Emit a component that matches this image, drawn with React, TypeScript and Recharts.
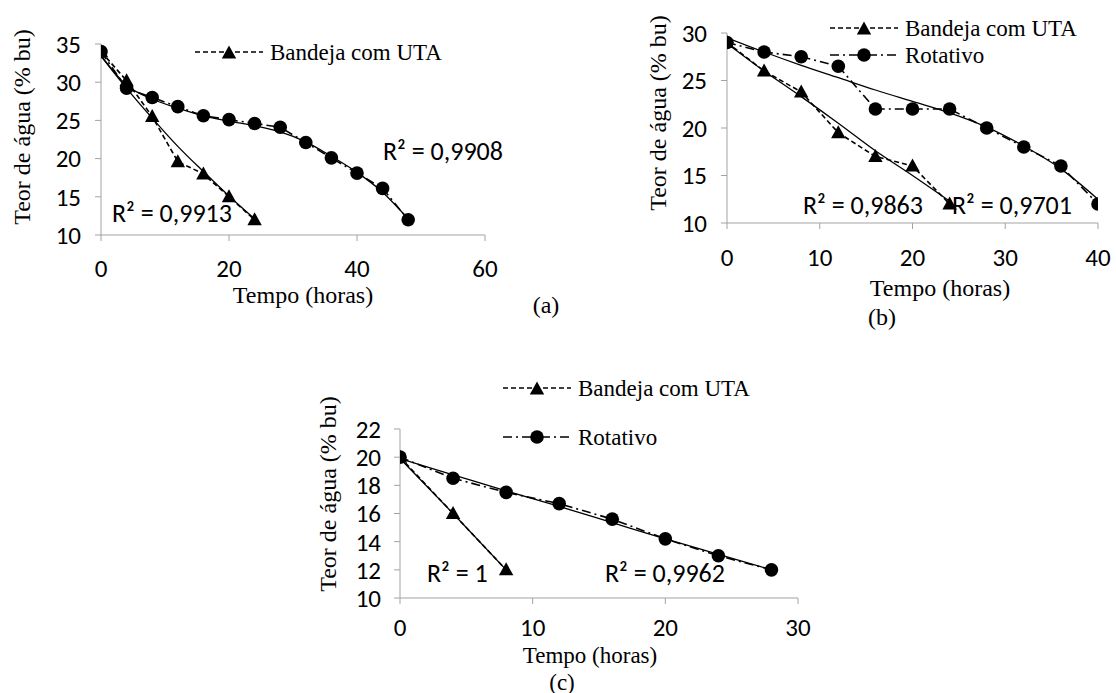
import React from "react";
import { LineChart, Line, XAxis, YAxis, Legend } from "recharts";

// (a) Bandeja com UTA x Rotativo, 35 -> 12 % bu
const horasA_uta = [0, 4, 8, 12, 16, 20, 24];
const teorA_uta = [34, 30.2, 25.5, 19.6, 18, 15, 12];
const tendA_uta = [33.4, 29.2, 25.3, 21.6, 18.3, 15.1, 12.1];
const horasA_rot = [0, 4, 8, 12, 16, 20, 24, 28, 32, 36, 40, 44, 48];
const teorA_rot = [34, 29.2, 28, 26.8, 25.6, 25.1, 24.6, 24.1, 22.1, 20.1, 18.1, 16.1, 12];
const tendA_rot = [33.5, 29.6, 27.8, 26.6, 25.6, 24.9, 24.3, 23.5, 22.2, 20.3, 18.2, 15.6, 12.1];

// (b)
const horasB_uta = [0, 4, 8, 12, 16, 20, 24];
const teorB_uta = [29, 26, 23.8, 19.5, 17, 16, 12];
const tendB_uta = [28.9, 26, 23.3, 20.5, 17.6, 15, 12.3];
const horasB_rot = [0, 4, 8, 12, 16, 20, 24, 28, 32, 36, 40];
const teorB_rot = [29, 28, 27.5, 26.5, 22, 22, 22, 20, 18, 16, 12];
const tendB_rot = [29.5, 28, 26.6, 25.3, 24, 22.8, 21.6, 20.1, 18.1, 15.7, 12.5];

// (c)
const horasC_uta = [0, 4, 8];
const teorC_uta = [20, 16, 12];
const tendC_uta = [19.9, 16, 12];
const horasC_rot = [0, 4, 8, 12, 16, 20, 24, 28];
const teorC_rot = [20, 18.5, 17.5, 16.7, 15.6, 14.2, 13, 12];
const tendC_rot = [19.9, 18.75, 17.6, 16.5, 15.35, 14.2, 13.1, 12];

const ticksXA = [0, 20, 40, 60];
const ticksYA = [10, 15, 20, 25, 30, 35];
const ticksXB = [0, 10, 20, 30, 40];
const ticksYB = [10, 15, 20, 25, 30];
const ticksXC = [0, 10, 20, 30];
const ticksYC = [10, 12, 14, 16, 18, 20, 22];

const UTA = "Bandeja com UTA";
const ROT = "Rotativo";

const pts = (xs: number[], ys: number[]) => xs.map((x, i) => ({ x, y: ys[i] }));

const serif = "'Liberation Serif', 'Times New Roman', Times, serif";
const sans = "Carlito, Calibri, Lato, sans-serif";
const axisGray = "#a3a3a3";
const dashUta = "5 3";
const dashRot = "9 4 2 4";

const triPath = (cx: number, cy: number) =>
  `M${cx},${cy - 7.5} L${cx + 7.2},${cy + 5.5} L${cx - 7.2},${cy + 5.5} Z`;

const TriDot = (props: any) => {
  const { cx, cy, index } = props;
  if (cx == null || cy == null) return <g key={`t-${index}`} />;
  return <path key={`t-${index}`} d={triPath(cx, cy)} fill="#000" />;
};

const RoundDot = (props: any) => {
  const { cx, cy, index } = props;
  if (cx == null || cy == null) return <g key={`c-${index}`} />;
  return <circle key={`c-${index}`} cx={cx} cy={cy} r={6.8} fill="#000" />;
};

const LegendRows = ({ payload, gap, names }: { payload?: any[]; gap: number; names: string[] }) => (
  <div style={{ display: "flex", flexDirection: "column", rowGap: gap }}>
    {(payload || [])
      .filter((entry) => entry.type !== "none" && names.includes(entry.value))
      .map((entry) => {
        const tri = entry.value === UTA;
        return (
          <div key={entry.value} style={{ display: "flex", alignItems: "center", height: 24 }}>
            <svg width={68} height={16}>
              <line x1={0} y1={8} x2={68} y2={8} stroke="#000" strokeWidth={1.5} strokeDasharray={tri ? dashUta : dashRot} />
              {tri ? <path d={triPath(34, 9)} fill="#000" /> : <circle cx={34} cy={8} r={6.8} fill="#000" />}
            </svg>
            <span style={{ marginLeft: 7, fontFamily: serif, fontSize: 23, color: "#000", lineHeight: 1 }}>
              {entry.value}
            </span>
          </div>
        );
      })}
  </div>
);

interface PanelProps {
  box: { left: number; top: number; width: number; height: number };
  margin: { top: number; right: number; bottom: number; left: number };
  xDomain: [number, number];
  yDomain: [number, number];
  xTicks: number[];
  yTicks: number[];
  uta: { x: number; y: number }[];
  utaTrend: { x: number; y: number }[];
  rot: { x: number; y: number }[];
  rotTrend: { x: number; y: number }[];
  legendNames: string[];
  legendPos: { left: number; top: number };
  legendGap: number;
  yTickMargin: number;
  xTickMargin: number;
}

const tickStyle = { fill: "#000", fontSize: 25, fontFamily: sans };

function Panel(p: PanelProps) {
  return (
    <div style={{ position: "absolute", left: p.box.left, top: p.box.top }}>
      <LineChart width={p.box.width} height={p.box.height} margin={p.margin}>
        <XAxis
          type="number"
          dataKey="x"
          domain={p.xDomain}
          ticks={p.xTicks}
          interval={0}
          height={30}
          stroke={axisGray}
          tickSize={6}
          tickMargin={p.xTickMargin}
          tick={tickStyle}
          allowDataOverflow
        />
        <YAxis
          type="number"
          dataKey="y"
          domain={p.yDomain}
          ticks={p.yTicks}
          interval={0}
          width={60}
          stroke={axisGray}
          tickSize={6}
          tickMargin={p.yTickMargin}
          tick={tickStyle}
          allowDataOverflow
        />
        <Legend
          layout="horizontal"
          verticalAlign="middle"
          align="center"
          wrapperStyle={{ left: p.legendPos.left, top: p.legendPos.top, width: 320 }}
          content={(props: any) => <LegendRows payload={props.payload} gap={p.legendGap} names={p.legendNames} />}
        />
        <Line name="Tendência UTA" data={p.utaTrend} dataKey="y" type="monotone" stroke="#000" strokeWidth={1.3} dot={false} legendType="none" isAnimationActive={false} />
        <Line name="Tendência rotativo" data={p.rotTrend} dataKey="y" type="monotone" stroke="#000" strokeWidth={1.3} dot={false} legendType="none" isAnimationActive={false} />
        <Line
          name={UTA}
          data={p.uta}
          dataKey="y"
          type="linear"
          stroke="#000"
          strokeWidth={1.6}
          strokeDasharray={dashUta}
          dot={TriDot}
          isAnimationActive={false}
        />
        <Line
          name={ROT}
          data={p.rot}
          dataKey="y"
          type="linear"
          stroke="#000"
          strokeWidth={1.6}
          strokeDasharray={dashRot}
          dot={RoundDot}
          isAnimationActive={false}
        />
      </LineChart>
    </div>
  );
}

const Txt = ({ x, y, children, rotate, anchor, font, size }: any) => (
  <div
    style={{
      position: "absolute",
      left: x,
      top: y,
      transform: `translate(${anchor === "start" ? "0" : "-50%"}, -50%)${rotate ? " rotate(-90deg)" : ""}`,
      fontFamily: font,
      fontSize: size,
      lineHeight: 1,
      whiteSpace: "nowrap",
      color: "#000",
    }}
  >
    {children}
  </div>
);

export default function App() {
  return (
    <div style={{ position: "absolute", left: 0, top: 0, width: 1116, height: 693, background: "#fff", overflow: "hidden" }}>
      <Panel
        box={{ left: 0, top: 0, width: 520, height: 330 }}
        margin={{ top: 44, right: 35, bottom: 65, left: 41 }}
        xDomain={[0, 60]}
        yDomain={[10, 35]}
        xTicks={ticksXA}
        yTicks={ticksYA}
        uta={pts(horasA_uta, teorA_uta)}
        utaTrend={pts(horasA_uta, tendA_uta)}
        rot={pts(horasA_rot, teorA_rot)}
        rotTrend={pts(horasA_rot, tendA_rot)}
        legendNames={[UTA]}
        legendPos={{ left: 195, top: 40 }}
        legendGap={3}
        yTickMargin={14}
        xTickMargin={18}
      />
      <Panel
        box={{ left: 600, top: 0, width: 516, height: 293 }}
        margin={{ top: 33, right: 18, bottom: 40, left: 67 }}
        xDomain={[0, 40]}
        yDomain={[10, 30]}
        xTicks={ticksXB}
        yTicks={ticksYB}
        uta={pts(horasB_uta, teorB_uta)}
        utaTrend={pts(horasB_uta, tendB_uta)}
        rot={pts(horasB_rot, teorB_rot)}
        rotTrend={pts(horasB_rot, tendB_rot)}
        legendNames={[UTA, ROT]}
        legendPos={{ left: 230, top: 16 }}
        legendGap={3}
        yTickMargin={14}
        xTickMargin={19}
      />
      <Panel
        box={{ left: 300, top: 370, width: 560, height: 293 }}
        margin={{ top: 59, right: 62, bottom: 35, left: 40 }}
        xDomain={[0, 30]}
        yDomain={[10, 22]}
        xTicks={ticksXC}
        yTicks={ticksYC}
        uta={pts(horasC_uta, teorC_uta)}
        utaTrend={pts(horasC_uta, tendC_uta)}
        rot={pts(horasC_rot, teorC_rot)}
        rotTrend={pts(horasC_rot, tendC_rot)}
        legendNames={[UTA, ROT]}
        legendPos={{ left: 203, top: 6 }}
        legendGap={25}
        yTickMargin={13}
        xTickMargin={14}
      />

      {/* axis titles and panel letters */}
      <Txt x={22} y={127} rotate font={serif} size={24}>Teor de água (% bu)</Txt>
      <Txt x={303} y={295} font={serif} size={24}>Tempo (horas)</Txt>
      <Txt x={546} y={305} font={serif} size={24}>(a)</Txt>

      <Txt x={658} y={113} rotate font={serif} size={24}>Teor de água (% bu)</Txt>
      <Txt x={940} y={288} font={serif} size={24}>Tempo (horas)</Txt>
      <Txt x={882} y={317} font={serif} size={24}>(b)</Txt>

      <Txt x={328} y={494} rotate font={serif} size={24}>Teor de água (% bu)</Txt>
      <Txt x={590} y={655} font={serif} size={23}>Tempo (horas)</Txt>
      <Txt x={562} y={682} font={serif} size={23}>(c)</Txt>

      {/* R² of the trend lines */}
      <Txt x={112} y={213} anchor="start" font={sans} size={26}>R² = 0,9913</Txt>
      <Txt x={383} y={151} anchor="start" font={sans} size={26}>R² = 0,9908</Txt>
      <Txt x={803} y={205} anchor="start" font={sans} size={26}>R² = 0,9863</Txt>
      <Txt x={952} y={205} anchor="start" font={sans} size={26}>R² = 0,9701</Txt>
      <Txt x={427} y={573} anchor="start" font={sans} size={26}>R² = 1</Txt>
      <Txt x={605} y={573} anchor="start" font={sans} size={26}>R² = 0,9962</Txt>
    </div>
  );
}
